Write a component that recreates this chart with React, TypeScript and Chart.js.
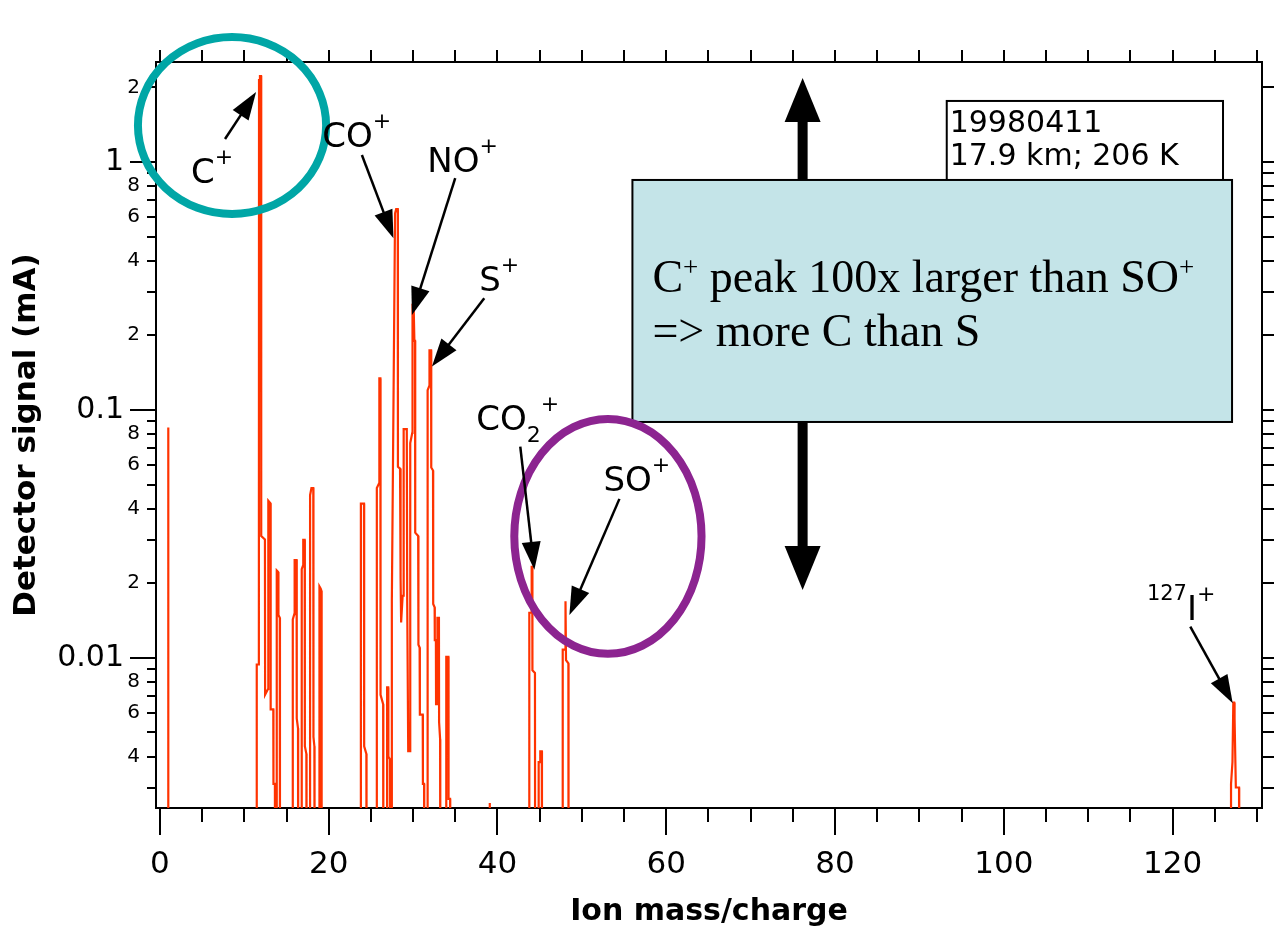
import React, { useEffect, useRef } from "react";
import { Chart, registerables } from "chart.js";

Chart.register(...registerables);

// ---------------- data ----------------
const BL = 0.001; // signal below the detection floor (under the axis minimum)

// mass/charge samples of the recorded trace
const traceMass: number[] = [
  0.96, 0.97, 0.99, 1.0,
  11.47, 11.47, 11.72, 11.74, 11.85, 11.98, 12.0, 12.44, 12.46, 12.82, 12.84, 13.1, 13.12, 13.43, 13.45, 13.62, 13.64,
  13.84, 13.84, 14.0, 14.04, 14.2, 14.22,
  15.74, 15.74, 15.92, 15.96, 16.19, 16.21, 16.36, 16.38,
  16.8, 16.8, 16.96, 16.98, 17.15, 17.17, 17.35, 17.37,
  17.79, 17.79, 17.95, 18.17, 18.19, 18.3, 18.32,
  18.9, 18.9, 19.05, 19.14, 19.16,
  23.81, 23.81, 24.18, 24.2, 24.46, 24.48,
  25.7, 25.7, 25.98, 26.0, 26.12, 26.14, 26.45, 26.47,
  26.92, 26.92, 27.05, 27.07, 27.25, 27.27,
  27.48, 27.48, 27.86, 27.97, 27.99, 28.18, 28.2, 28.45, 28.47, 28.56, 28.58, 28.66, 28.76, 28.86, 28.88, 29.25, 29.3, 29.42, 29.64,
  29.66, 29.9, 29.93, 30.06, 30.15, 30.23, 30.25, 30.6, 30.63, 30.77, 30.8, 31.14, 31.16, 31.3, 31.32,
  31.72, 31.72, 31.92, 31.94, 32.13, 32.15, 32.36, 32.38, 32.55, 32.57, 32.7, 32.72, 32.86, 32.88, 33.06, 33.08, 33.2, 33.22,
  33.93, 33.93, 34.18, 34.2, 34.38, 34.4,
  39.04, 39.05, 39.1, 39.11,
  43.77, 43.77, 44.03, 44.05, 44.12, 44.14, 44.44, 44.46,
  44.88, 44.88, 45.05, 45.07, 45.25, 45.27,
  47.73, 47.73, 48.0, 48.02, 48.1, 48.12, 48.4, 48.42,
  126.93, 126.93, 127.1, 127.2, 127.3, 127.35, 127.5, 127.88, 127.9,
];

// detector signal (mA) at each sample
const traceSignal: number[] = [
  BL, 0.085, 0.085, BL,
  BL, 0.0094, 0.0094, 2.14, 2.22, 2.22, 0.031, 0.03, 0.0071, 0.0075, 0.043, 0.042, 0.0062, 0.0062, 0.0031, 0.0031, BL,
  BL, 0.0225, 0.0222, 0.0149, 0.0145, BL,
  BL, 0.0143, 0.015, 0.0248, 0.0248, 0.0057, 0.0052, BL,
  BL, 0.0228, 0.0236, 0.0299, 0.0299, 0.0044, 0.0041, BL,
  BL, 0.0453, 0.0484, 0.0484, 0.0048, 0.0044, BL,
  BL, 0.0194, 0.019, 0.0186, BL,
  BL, 0.0419, 0.0419, 0.0044, 0.0041, BL,
  BL, 0.0484, 0.0507, 0.134, 0.134, 0.0071, 0.0065, BL,
  BL, 0.0076, 0.0076, 0.004, 0.0039, BL,
  BL, 0.0169, 0.62, 0.62, 0.645, 0.645, 0.059, 0.058, 0.0212, 0.021, 0.0139, 0.0139, 0.0178, 0.0178, 0.0837, 0.0837, 0.0171, 0.0042, 0.0042,
  0.0735, 0.0808, 0.265, 0.265, 0.19, 0.19, 0.032, 0.031, 0.0113, 0.011, 0.0059, 0.0059, 0.0031, 0.0031, BL,
  BL, 0.12, 0.125, 0.174, 0.174, 0.0586, 0.057, 0.0165, 0.016, 0.0118, 0.0118, 0.0065, 0.0065, 0.0145, 0.0145, 0.0055, 0.0047, BL,
  BL, 0.0101, 0.0101, 0.0027, 0.0027, BL,
  BL, 0.0026, 0.0026, BL,
  BL, 0.0152, 0.0152, 0.0233, 0.0233, 0.0089, 0.0087, BL,
  BL, 0.0038, 0.0038, 0.0042, 0.0042, BL,
  BL, 0.0108, 0.0108, 0.0169, 0.0169, 0.0098, 0.0095, BL,
  BL, 0.0031, 0.0038, 0.0066, 0.0066, 0.0057, 0.003, 0.003, BL,
];

const xMajorTicks = [0, 20, 40, 60, 80, 100, 120];
const xMinorTicks = [0, 5, 10, 15, 20, 25, 30, 35, 40, 45, 50, 55, 60, 65, 70, 75, 80, 85, 90, 95, 100, 105, 110, 115, 120, 125, 130];
const yDecadeTicks = [0.01, 0.1, 1];
const yDecadeLabels = ["0.01", "0.1", "1"];
const yMinorTicks = [
  0.003, 0.004, 0.005, 0.006, 0.007, 0.008, 0.009,
  0.02, 0.03, 0.04, 0.05, 0.06, 0.07, 0.08, 0.09,
  0.2, 0.3, 0.4, 0.5, 0.6, 0.7, 0.8, 0.9, 2,
];
const yMinorLabelled = [2, 4, 6, 8];

const X_MIN = -0.47;
const X_MAX = 130.6;
const Y_MIN = 0.00248;
const Y_MAX = 2.53;

// ---------------- annotations (data coordinates) ----------------
type Part = { t: string; s: number; dy: number };
const sup = (t: string): Part => ({ t, s: 22, dy: -19 });
const big = (t: string): Part => ({ t, s: 34, dy: 0 });

const ionLabels: { m: number; v: number; parts: Part[] }[] = [
  { m: 3.68, v: 0.823, parts: [big("C"), sup("+")] },
  { m: 19.22, v: 1.149, parts: [big("CO"), sup("+")] },
  { m: 31.67, v: 0.911, parts: [big("NO"), sup("+")] },
  { m: 37.84, v: 0.302, parts: [big("S"), sup("+")] },
  { m: 37.49, v: 0.0831, parts: [big("CO"), { t: "2", s: 22, dy: 12 }, sup("+")] },
  { m: 52.55, v: 0.0471, parts: [big("SO"), sup("+")] },
  { m: 116.96, v: 0.01423, parts: [{ t: "127", s: 21, dy: -20 }, big("I"), sup("+")] },
];

const arrows: { from: [number, number]; to: [number, number] }[] = [
  { from: [7.71, 1.238], to: [11.39, 1.915] },
  { from: [23.93, 1.067], to: [27.67, 0.4924] },
  { from: [34.99, 0.8597], to: [29.86, 0.2415] },
  { from: [38.43, 0.2821], to: [32.23, 0.1495] },
  { from: [42.7, 0.0711], to: [44.37, 0.02264] },
  { from: [54.45, 0.04377], to: [48.52, 0.0149] },
  { from: [122.1, 0.01337], to: [127.13, 0.006565] },
];

const ellipses = [
  { m0: -2.61, m1: 19.69, v0: 3.19, v1: 0.617, color: "#00A6A6" },
  { m0: 41.99, m1: 64.18, v0: 0.092, v1: 0.01038, color: "#8C2490" },
];

const doubleArrow = { m: 76.16, vTop: 2.181, vBottom: 0.0188 };
const infoBox = { m0: 93.24, m1: 125.98, v0: 1.762, v1: 0.703, textM: 93.59, lines: [{ t: "19980411", v: 1.321 }, { t: "17.9 km; 206 K", v: 0.9725 }] };
const noteBox = { m0: 55.99, m1: 127.05, v0: 0.846, v1: 0.0894, textM: 58.36, line1V: 0.299, line2V: 0.1811 };

const SANS = '"DejaVu Sans"';
const SERIF = '"Liberation Serif"';

const annotationPlugin = {
  id: "spectrumAnnotations",
  afterDatasetsDraw(chart: any) {
    const ctx: CanvasRenderingContext2D = chart.ctx;
    const xs = chart.scales.x;
    const ys = chart.scales.y;
    const X = (m: number) => xs.getPixelForValue(m);
    const Y = (v: number) => ys.getPixelForValue(v);
    ctx.save();

    // big double-headed arrow
    {
      const x = X(doubleArrow.m);
      const yt = Y(doubleArrow.vTop);
      const yb = Y(doubleArrow.vBottom);
      const hl = 44, hw = 18, sw = 10;
      ctx.fillStyle = "#000";
      ctx.fillRect(x - sw / 2, yt + hl - 2, sw, yb - yt - 2 * hl + 4);
      ctx.beginPath();
      ctx.moveTo(x, yt); ctx.lineTo(x + hw, yt + hl); ctx.lineTo(x - hw, yt + hl); ctx.closePath(); ctx.fill();
      ctx.beginPath();
      ctx.moveTo(x, yb); ctx.lineTo(x + hw, yb - hl); ctx.lineTo(x - hw, yb - hl); ctx.closePath(); ctx.fill();
    }

    // info box
    {
      const x0 = X(infoBox.m0), x1 = X(infoBox.m1), y0 = Y(infoBox.v0), y1 = Y(infoBox.v1);
      ctx.fillStyle = "#fff";
      ctx.fillRect(x0, y0, x1 - x0, y1 - y0);
      ctx.strokeStyle = "#000"; ctx.lineWidth = 2;
      ctx.strokeRect(x0, y0, x1 - x0, y1 - y0);
      ctx.fillStyle = "#000";
      ctx.font = `30px ${SANS}`;
      ctx.textAlign = "left"; ctx.textBaseline = "alphabetic";
      for (const l of infoBox.lines) ctx.fillText(l.t, X(infoBox.textM), Y(l.v));
    }

    // note box
    {
      const x0 = X(noteBox.m0), x1 = X(noteBox.m1), y0 = Y(noteBox.v0), y1 = Y(noteBox.v1);
      ctx.fillStyle = "#C4E4E8";
      ctx.fillRect(x0, y0, x1 - x0, y1 - y0);
      ctx.strokeStyle = "#000"; ctx.lineWidth = 2;
      ctx.strokeRect(x0, y0, x1 - x0, y1 - y0);
      ctx.fillStyle = "#000";
      ctx.textAlign = "left"; ctx.textBaseline = "alphabetic";
      const parts1: Part[] = [
        { t: "C", s: 46, dy: 0 }, { t: "+", s: 27, dy: -16 },
        { t: " peak 100x larger than SO", s: 46, dy: 0 }, { t: "+", s: 27, dy: -16 },
      ];
      let x = X(noteBox.textM);
      const yl1 = Y(noteBox.line1V);
      for (const p of parts1) {
        ctx.font = `${p.s}px ${SERIF}`;
        ctx.fillText(p.t, x, yl1 + p.dy);
        x += ctx.measureText(p.t).width;
      }
      ctx.font = `46px ${SERIF}`;
      ctx.fillText("=> more C than S", X(noteBox.textM), Y(noteBox.line2V));
    }

    // ellipses
    for (const e of ellipses) {
      const x0 = X(e.m0), x1 = X(e.m1), y0 = Y(e.v0), y1 = Y(e.v1);
      ctx.beginPath();
      ctx.ellipse((x0 + x1) / 2, (y0 + y1) / 2, Math.abs(x1 - x0) / 2, Math.abs(y1 - y0) / 2, 0, 0, Math.PI * 2);
      ctx.strokeStyle = e.color; ctx.lineWidth = 8;
      ctx.stroke();
    }

    // ion labels
    ctx.fillStyle = "#000";
    ctx.textAlign = "left"; ctx.textBaseline = "alphabetic";
    for (const lab of ionLabels) {
      let x = X(lab.m);
      const y = Y(lab.v);
      for (const p of lab.parts) {
        ctx.font = `${p.s}px ${SANS}`;
        ctx.fillText(p.t, x, y + p.dy);
        x += ctx.measureText(p.t).width;
      }
    }

    // arrows
    for (const a of arrows) {
      const x0 = X(a.from[0]), y0 = Y(a.from[1]), x1 = X(a.to[0]), y1 = Y(a.to[1]);
      const dx = x1 - x0, dy = y1 - y0, len = Math.hypot(dx, dy);
      const ux = dx / len, uy = dy / len;
      const hl = 28, hw = 9.5;
      const bx = x1 - ux * hl, by = y1 - uy * hl;
      ctx.strokeStyle = "#000"; ctx.lineWidth = 2.5;
      ctx.beginPath(); ctx.moveTo(x0, y0); ctx.lineTo(bx + ux * 2, by + uy * 2); ctx.stroke();
      ctx.fillStyle = "#000";
      ctx.beginPath();
      ctx.moveTo(x1, y1);
      ctx.lineTo(bx - uy * hw, by + ux * hw);
      ctx.lineTo(bx + uy * hw, by - ux * hw);
      ctx.closePath(); ctx.fill();
    }
    ctx.restore();
  },
};

const setTicks = (vals: number[]) => (scale: any) => {
  scale.ticks = vals.map((v) => ({ value: v }));
};

const minorLabel = (v: number) => {
  const mant = Math.round(v / Math.pow(10, Math.floor(Math.log10(v) + 1e-9)));
  return yMinorLabelled.includes(mant) ? String(mant) : "";
};

export default function App() {
  const ref = useRef<HTMLCanvasElement | null>(null);
  useEffect(() => {
    if (!ref.current) return;
    const gridBase = { drawOnChartArea: false, color: "#000", tickColor: "#000", lineWidth: 2 };
    const chart = new Chart(ref.current, {
      type: "line",
      data: {
        datasets: [
          {
            data: traceMass.map((m, i) => ({ x: m, y: traceSignal[i] })),
            borderColor: "#FF3300",
            borderWidth: 2.2,
            pointRadius: 0,
            fill: false,
            tension: 0,
            clip: 0,
            xAxisID: "x",
            yAxisID: "y",
          } as any,
        ],
      },
      options: {
        animation: false,
        responsive: false,
        events: [],
        layout: { padding: 0 },
        plugins: { legend: { display: false }, tooltip: { enabled: false }, title: { display: false } },
        scales: {
          x: {
            type: "linear", position: "bottom", weight: 2, min: X_MIN, max: X_MAX,
            afterBuildTicks: setTicks(xMajorTicks),
            afterFit: (s: any) => { s.height = 126; },
            grid: { ...gridBase, tickLength: 27 },
            border: { display: true, color: "#000", width: 2 },
            ticks: { autoSkip: false, maxRotation: 0, color: "#000", padding: 11, font: { family: SANS, size: 31 }, callback: (v: any) => String(v) },
            title: { display: true, text: "Ion mass/charge", color: "#000", font: { family: SANS, size: 30, weight: "bold", lineHeight: 1.2 }, padding: { top: 0, bottom: 4 } },
          },
          xMinor: {
            type: "linear", position: "bottom", weight: 1, min: X_MIN, max: X_MAX,
            afterBuildTicks: setTicks(xMinorTicks),
            afterFit: (s: any) => { s.height = 0; },
            grid: { ...gridBase, tickLength: 14 },
            border: { display: false },
            ticks: { display: false, autoSkip: false },
          },
          xTop: {
            type: "linear", position: "top", min: X_MIN, max: X_MAX,
            afterBuildTicks: setTicks(xMinorTicks),
            afterFit: (s: any) => { s.height = 62; },
            grid: { ...gridBase, tickLength: 12 },
            border: { display: true, color: "#000", width: 2 },
            ticks: { display: false, autoSkip: false },
          },
          // decade labels + axis title (outermost strip, 0..126 px)
          y: {
            type: "logarithmic", position: "left", weight: 3, min: Y_MIN, max: Y_MAX,
            afterBuildTicks: setTicks(yDecadeTicks),
            afterFit: (s: any) => { s.width = 126; },
            grid: { ...gridBase, drawTicks: false },
            border: { display: false },
            ticks: {
              autoSkip: false, color: "#000", padding: 2, font: { family: SANS, size: 30 },
              callback: (_v: any, i: number) => yDecadeLabels[i],
            },
            title: { display: true, text: "Detector signal (mA)", color: "#000", font: { family: SANS, size: 31, weight: "bold", lineHeight: 1 }, padding: { top: 11, bottom: 0 } },
          },
          // minor ticks + their labels (126..156 px)
          yMinor: {
            type: "logarithmic", position: "left", weight: 2, min: Y_MIN, max: Y_MAX,
            afterBuildTicks: setTicks(yMinorTicks),
            afterFit: (s: any) => { s.width = 30; },
            grid: { ...gridBase, tickLength: 9 },
            border: { display: false },
            ticks: {
              autoSkip: false, color: "#000", padding: 7, font: { family: SANS, size: 20 },
              callback: (v: any) => minorLabel(Number(v)),
            },
          },
          // long decade tick marks + left frame
          yMajor: {
            type: "logarithmic", position: "left", weight: 1, min: Y_MIN, max: Y_MAX,
            afterBuildTicks: setTicks(yDecadeTicks),
            afterFit: (s: any) => { s.width = 0; },
            grid: { ...gridBase, tickLength: 26 },
            border: { display: true, color: "#000", width: 2 },
            ticks: { display: false, autoSkip: false },
          },
          yRight: {
            type: "logarithmic", position: "right", min: Y_MIN, max: Y_MAX,
            afterBuildTicks: setTicks([...yMinorTicks, ...yDecadeTicks]),
            afterFit: (s: any) => { s.width = 12; },
            grid: { ...gridBase, tickLength: 12 },
            border: { display: true, color: "#000", width: 2 },
            ticks: { display: false, autoSkip: false },
          },
        } as any,
      },
      plugins: [annotationPlugin],
    });
    return () => chart.destroy();
  }, []);

  return (
    <div style={{ position: "fixed", left: 0, top: 0, width: 1274, height: 934, background: "#fff" }}>
      <canvas ref={ref} width={1274} height={934} style={{ display: "block", width: 1274, height: 934 }} />
    </div>
  );
}
